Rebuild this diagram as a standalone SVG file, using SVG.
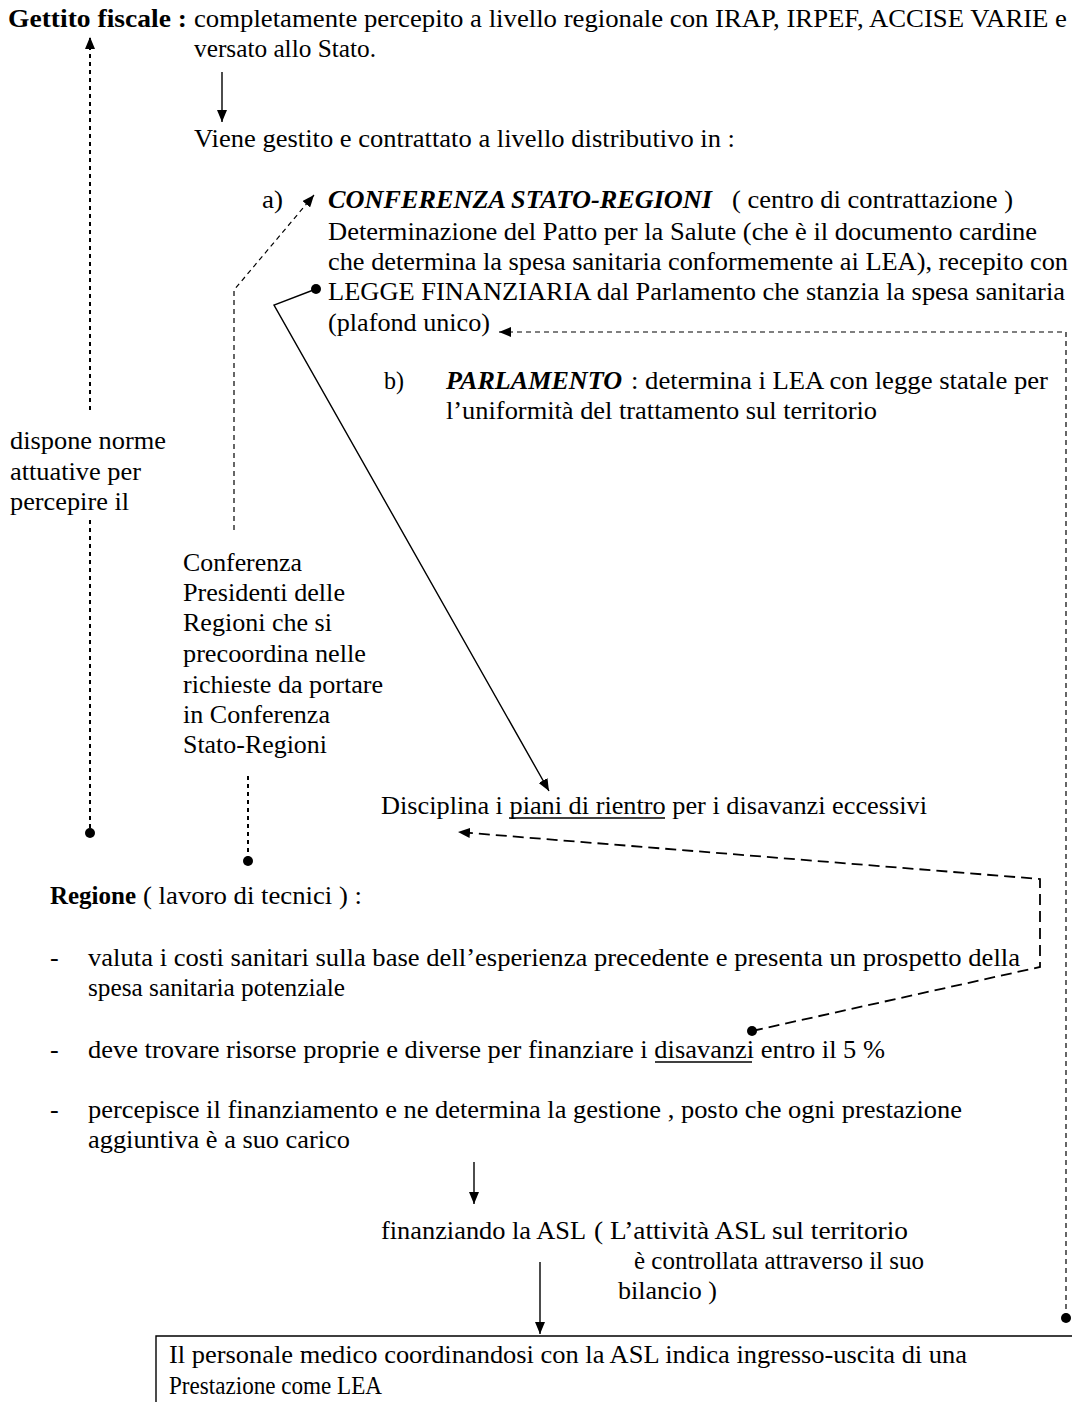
<svg xmlns="http://www.w3.org/2000/svg" width="1072" height="1402" viewBox="0 0 1072 1402">
  <defs>
    <style>
      text { font-family: "Liberation Serif", "Times New Roman", serif; font-size: 26px; fill: #000; }
      .b { font-weight: bold; }
      .bi { font-weight: bold; font-style: italic; }
      .solid { fill: none; stroke: #000; stroke-width: 1.4; }
      .dot4 { fill: none; stroke: #000; stroke-width: 2; stroke-dasharray: 4 4; }
      .dash5 { fill: none; stroke: #000; stroke-width: 1.2; stroke-dasharray: 5 4; }
      .long { fill: none; stroke: #000; stroke-width: 1.8; stroke-dasharray: 11 6; }
      .ul { stroke: #000; stroke-width: 1.3; }
      .pt { fill: #000; }
    </style>
    <marker id="ah" viewBox="0 0 12 10" refX="12" refY="5" markerWidth="12" markerHeight="10" markerUnits="userSpaceOnUse" orient="auto">
      <path d="M0,0 L12,5 L0,10 z" fill="#000"/>
    </marker>
  </defs>

  <!-- Gettito fiscale -->
  <g id="gettito">
    <text class="b" x="8" y="27" textLength="179" lengthAdjust="spacingAndGlyphs">Gettito fiscale :</text>
    <text x="194" y="27" textLength="873" lengthAdjust="spacingAndGlyphs">completamente percepito a livello regionale con IRAP, IRPEF, ACCISE VARIE e</text>
    <text x="194" y="57" textLength="182" lengthAdjust="spacingAndGlyphs">versato allo Stato.</text>
  </g>

  <g id="gestione">
    <text x="194" y="147" textLength="541" lengthAdjust="spacingAndGlyphs">Viene gestito e contrattato a livello distributivo in :</text>
  </g>

  <!-- a) Conferenza Stato-Regioni -->
  <g id="conferenza-stato-regioni">
    <text x="262" y="208" textLength="21" lengthAdjust="spacingAndGlyphs">a)</text>
    <text class="bi" x="328" y="208" textLength="384" lengthAdjust="spacingAndGlyphs">CONFERENZA STATO-REGIONI</text>
    <text x="732" y="208" textLength="281" lengthAdjust="spacingAndGlyphs">( centro di contrattazione )</text>
    <text x="328" y="240" textLength="709" lengthAdjust="spacingAndGlyphs">Determinazione del Patto per la Salute (che è il documento cardine</text>
    <text x="328" y="270" textLength="740" lengthAdjust="spacingAndGlyphs">che determina la spesa sanitaria conformemente ai LEA), recepito con</text>
    <text x="328" y="300" textLength="737" lengthAdjust="spacingAndGlyphs">LEGGE FINANZIARIA dal Parlamento che stanzia la spesa sanitaria</text>
    <text x="328" y="331" textLength="162" lengthAdjust="spacingAndGlyphs">(plafond unico)</text>
  </g>

  <!-- b) Parlamento -->
  <g id="parlamento">
    <text x="384" y="389" textLength="20" lengthAdjust="spacingAndGlyphs">b)</text>
    <text class="bi" x="446" y="389" textLength="176" lengthAdjust="spacingAndGlyphs">PARLAMENTO</text>
    <text x="631" y="389" textLength="417" lengthAdjust="spacingAndGlyphs">: determina i LEA con legge statale per</text>
    <text x="446" y="419" textLength="431" lengthAdjust="spacingAndGlyphs">l’uniformità del trattamento sul territorio</text>
  </g>

  <g id="norme">
    <text x="10" y="449" textLength="156" lengthAdjust="spacingAndGlyphs">dispone norme</text>
    <text x="10" y="480" textLength="131" lengthAdjust="spacingAndGlyphs">attuative per</text>
    <text x="10" y="510" textLength="119" lengthAdjust="spacingAndGlyphs">percepire il</text>
  </g>

  <g id="conferenza-presidenti">
    <text x="183" y="571" textLength="119" lengthAdjust="spacingAndGlyphs">Conferenza</text>
    <text x="183" y="601" textLength="162" lengthAdjust="spacingAndGlyphs">Presidenti delle</text>
    <text x="183" y="631" textLength="149" lengthAdjust="spacingAndGlyphs">Regioni che si</text>
    <text x="183" y="662" textLength="183" lengthAdjust="spacingAndGlyphs">precoordina nelle</text>
    <text x="183" y="693" textLength="200" lengthAdjust="spacingAndGlyphs">richieste da portare</text>
    <text x="183" y="723" textLength="147" lengthAdjust="spacingAndGlyphs">in Conferenza</text>
    <text x="183" y="753" textLength="144" lengthAdjust="spacingAndGlyphs">Stato-Regioni</text>
  </g>

  <g id="piani-rientro">
    <text x="381" y="814" textLength="546" lengthAdjust="spacingAndGlyphs">Disciplina i piani di rientro per i disavanzi eccessivi</text>
    <line class="ul" x1="509" y1="818" x2="665" y2="818"/>
  </g>

  <!-- Regione -->
  <g id="regione">
    <text class="b" x="50" y="904" textLength="86" lengthAdjust="spacingAndGlyphs">Regione</text>
    <text x="143" y="904" textLength="219" lengthAdjust="spacingAndGlyphs">( lavoro di tecnici ) :</text>
    <text x="50" y="966">-</text>
    <text x="88" y="966" textLength="932" lengthAdjust="spacingAndGlyphs">valuta i costi sanitari sulla base dell’esperienza precedente e presenta un prospetto  della</text>
    <text x="88" y="996" textLength="257" lengthAdjust="spacingAndGlyphs">spesa sanitaria potenziale</text>
    <text x="50" y="1058">-</text>
    <text x="88" y="1058" textLength="797" lengthAdjust="spacingAndGlyphs">deve trovare risorse proprie e diverse per finanziare i disavanzi entro il 5 %</text>
    <line class="ul" x1="655" y1="1062" x2="752" y2="1062"/>
    <text x="50" y="1118">-</text>
    <text x="88" y="1118" textLength="874" lengthAdjust="spacingAndGlyphs">percepisce il finanziamento e ne determina la gestione , posto che ogni prestazione</text>
    <text x="88" y="1148" textLength="262" lengthAdjust="spacingAndGlyphs">aggiuntiva è a suo carico</text>
  </g>

  <g id="asl">
    <text x="381" y="1239" textLength="205" lengthAdjust="spacingAndGlyphs">finanziando la ASL</text>
    <text x="594" y="1239" textLength="314" lengthAdjust="spacingAndGlyphs">( L’attività ASL sul territorio</text>
    <text x="634" y="1269" textLength="290" lengthAdjust="spacingAndGlyphs">è controllata attraverso il suo</text>
    <text x="618" y="1299" textLength="99" lengthAdjust="spacingAndGlyphs">bilancio )</text>
  </g>

  <g id="personale-medico">
    <path class="solid" d="M156,1402 V1336 H1072"/>
    <text x="169" y="1363" textLength="798" lengthAdjust="spacingAndGlyphs">Il personale medico coordinandosi con la ASL indica ingresso-uscita di una</text>
    <text x="169" y="1394" textLength="213" lengthAdjust="spacingAndGlyphs">Prestazione come LEA</text>
  </g>

  <!-- connectors -->
  <g id="connectors">
    <path class="dot4" d="M90,410 V37" marker-end="url(#ah)"/>
    <path class="dot4" d="M90,520 V830"/>
    <circle class="pt" cx="90" cy="833" r="5"/>

    <path class="solid" d="M222,72 V122" marker-end="url(#ah)"/>

    <path class="dash5" d="M234,530 V290 L314,195" marker-end="url(#ah)"/>

    <path class="dot4" d="M248,776 V858"/>
    <circle class="pt" cx="248" cy="861" r="5"/>

    <circle class="pt" cx="316" cy="289" r="5"/>
    <path class="solid" d="M316,289 L274,305 L549,791" marker-end="url(#ah)"/>

    <circle class="pt" cx="1066" cy="1318" r="5"/>
    <path class="dash5" d="M1066,1318 V332 H499" marker-end="url(#ah)"/>

    <circle class="pt" cx="752" cy="1031" r="5"/>
    <path class="long" d="M752,1031 L1040,967 V879 L458,832" marker-end="url(#ah)"/>

    <path class="solid" d="M474,1162 V1204" marker-end="url(#ah)"/>
    <path class="solid" d="M540,1262 V1334" marker-end="url(#ah)"/>
  </g>
</svg>
